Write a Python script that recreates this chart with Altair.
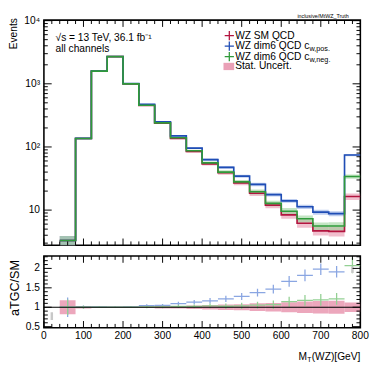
import altair as alt
import pandas as pd

# ---------------- data ----------------
bin_lo = [0, 40, 80, 120, 160, 200, 240, 280, 320, 360, 400, 440, 480, 520, 560, 600, 640, 680, 720, 760]
bin_hi = [40, 80, 120, 160, 200, 240, 280, 320, 360, 400, 440, 480, 520, 560, 600, 640, 680, 720, 760, 800]

sm_vals = [None, 3.3, 136, 1580, 2700, 1000, 455, 238, 137, 85, 54, 39, 27, 18.5, 12.0, 8.4, 6.2, 4.7, 4.6, 16.4]
pos_vals = [None, 3.3, 137, 1590, 2710, 1010, 475, 250, 150, 96, 63, 47.5, 34.5, 25.5, 17.6, 14.0, 11.3, 9.3, 8.8, 74.5]
neg_vals = [None, 3.3, 136, 1585, 2700, 1000, 458, 240, 140, 87, 56, 40, 28, 19.5, 12.8, 9.6, 7.3, 5.6, 5.6, 34.0]

sm_rel = [None, 0.18, 0.03, 0.01, 0.01, 0.015, 0.02, 0.03, 0.035, 0.045, 0.06, 0.07, 0.08, 0.10, 0.11, 0.13, 0.15, 0.16, 0.17, 0.12]
pos_rel = [None, 0.18, 0.03, 0.01, 0.01, 0.015, 0.02, 0.025, 0.03, 0.035, 0.045, 0.05, 0.055, 0.06, 0.07, 0.07, 0.08, 0.09, 0.09, 0.04]
neg_rel = [None, 0.18, 0.03, 0.01, 0.01, 0.015, 0.02, 0.03, 0.035, 0.04, 0.055, 0.065, 0.075, 0.09, 0.10, 0.12, 0.13, 0.14, 0.15, 0.08]

pos_ratio_err = [None, 0.25, 0.04, 0.015, 0.015, 0.02, 0.03, 0.035, 0.045, 0.055, 0.07, 0.08, 0.09, 0.10, 0.11, 0.14, 0.15, 0.15, 0.15, 0.30]
neg_ratio_err = [None, 0.20, 0.04, 0.015, 0.015, 0.02, 0.03, 0.035, 0.04, 0.05, 0.06, 0.07, 0.08, 0.09, 0.11, 0.13, 0.14, 0.15, 0.15, 0.20]

grey_x = [20, 780]
grey_lo = [0.67, 1.88]
grey_hi = [0.87, 2.05]

x_major = [0, 100, 200, 300, 400, 500, 600, 700, 800]
x_labels = ["0", "100", "200", "300", "400", "500", "600", "700", "800"]
x_minor = [20, 40, 60, 80, 120, 140, 160, 180, 220, 240, 260, 280, 320, 340, 360, 380,
           420, 440, 460, 480, 520, 540, 560, 580, 620, 640, 660, 680, 720, 740, 760, 780]
y1_major = [10, 100, 1000, 10000]
y1_labels = ["10", "10²", "10³", "10⁴"]
y1_minor = [3, 4, 5, 6, 7, 8, 9, 20, 30, 40, 50, 60, 70, 80, 90,
            200, 300, 400, 500, 600, 700, 800, 900, 2000, 3000, 4000, 5000, 6000, 7000, 8000, 9000]
y2_major = [0.5, 1.0, 1.5, 2.0]
y2_labels = ["0.5", "1", "1.5", "2"]
y2_minor = [0.6, 0.7, 0.8, 0.9, 1.1, 1.2, 1.3, 1.4, 1.6, 1.7, 1.8, 1.9, 2.1, 2.2, 2.3]

# ---------------- style ----------------
FONT = "Liberation Sans"
RED, BLUE, GREEN = "#b3143f", "#1f4db5", "#2f9a3a"
RED_B, BLUE_B, GREEN_B = "#e58aa5", "#8aa6e2", "#93d093"
W, H1, H2 = 326, 232, 74

XS = alt.Scale(domain=[0, 800], nice=False, zero=False)
YS1 = alt.Scale(type="log", domain=[2.77, 10200], nice=False)
YS2 = alt.Scale(domain=[0.47, 2.32], nice=False, zero=False)

one = pd.DataFrame({"k": [0]})


def txt(s, x, y, size=10, align="left", color="black", baseline="middle", angle=0):
    return alt.Chart(one).mark_text(text=s, font=FONT, fontSize=size, align=align,
                                    baseline=baseline, color=color, angle=angle).encode(
        x=alt.value(x), y=alt.value(y))


def xticks(H, major_len, minor_len):
    out = []
    for vals, ln in ((x_major, major_len), (x_minor, minor_len)):
        d = pd.DataFrame({"v": vals})
        out.append(alt.Chart(d).mark_rule(color="black", strokeWidth=1).encode(
            x=alt.X("v:Q", scale=XS, axis=None), y=alt.value(H), y2=alt.value(H - ln)))
        out.append(alt.Chart(d).mark_rule(color="black", strokeWidth=1).encode(
            x=alt.X("v:Q", scale=XS, axis=None), y=alt.value(0), y2=alt.value(ln)))
    return out


def yticks(major, minor, YS, major_len, minor_len):
    out = []
    for vals, ln in ((major, major_len), (minor, minor_len)):
        d = pd.DataFrame({"v": vals})
        out.append(alt.Chart(d).mark_rule(color="black", strokeWidth=1).encode(
            y=alt.Y("v:Q", scale=YS, axis=None), x=alt.value(0), x2=alt.value(ln)))
        out.append(alt.Chart(d).mark_rule(color="black", strokeWidth=1).encode(
            y=alt.Y("v:Q", scale=YS, axis=None), x=alt.value(W), x2=alt.value(W - ln)))
    return out


def ylabels(vals, labels, YS):
    d = pd.DataFrame({"v": vals, "t": labels})
    return alt.Chart(d).mark_text(font=FONT, fontSize=10.5, align="right", baseline="middle",
                                  color="black").encode(
        y=alt.Y("v:Q", scale=YS, axis=None), x=alt.value(-4), text="t:N")


series = [("sm", sm_vals, sm_rel, RED, RED_B),
          ("pos", pos_vals, pos_rel, BLUE, BLUE_B),
          ("neg", neg_vals, neg_rel, GREEN, GREEN_B)]

# ---------------- top panel ----------------
top_layers = []
for name, vals, rel, col, bcol in series:
    rows = [dict(lo=lo, hi=hi, ylo=v * (1 - r), yhi=v * (1 + r))
            for lo, hi, v, r in zip(bin_lo, bin_hi, vals, rel) if v is not None]
    top_layers.append(alt.Chart(pd.DataFrame(rows)).mark_rect(color=bcol, opacity=0.55, clip=True).encode(
        x=alt.X("lo:Q", scale=XS, axis=None), x2="hi:Q",
        y=alt.Y("ylo:Q", scale=YS1, axis=None), y2="yhi:Q"))
for name, vals, rel, col, bcol in series:
    xs = [lo for lo, v in zip(bin_lo, vals) if v is not None] + [800]
    ys = [v for v in vals if v is not None]
    ys = ys + [ys[-1]]
    top_layers.append(alt.Chart(pd.DataFrame({"x": xs, "y": ys})).mark_line(
        interpolate="step-after", color=col, strokeWidth=1.7, clip=True).encode(
        x=alt.X("x:Q", scale=XS, axis=None), y=alt.Y("y:Q", scale=YS1, axis=None)))

top_layers += xticks(H1, 7, 4)
top_layers += yticks(y1_major, y1_minor, YS1, 8, 4)
top_layers.append(ylabels(y1_major, y1_labels, YS1))
top_layers.append(txt("Events", -30.5, -2, size=10.5, align="right", angle=270))

# annotations
top_layers.append(txt("√s = 13 TeV, 36.1 fb⁻¹", 12, 19, size=10.5))
top_layers.append(txt("all channels", 12, 30, size=10.5))
top_layers.append(txt("inclusive/MtWZ_Truth", 314, -4, size=5.5, align="right"))

# legend
LX = 191
leg_y = [16, 26.7, 37.7]
leg_cols = [RED, BLUE, GREEN]
for yy, cc in zip(leg_y, leg_cols):
    top_layers.append(alt.Chart(one).mark_point(shape="M-1,0L1,0M0,-1L0,1", size=90, filled=False,
                                                strokeWidth=1.3, color=cc, opacity=1).encode(
        x=alt.value(LX), y=alt.value(yy)))
top_layers.append(txt("WZ SM QCD", LX + 6, leg_y[0], size=10.5))
top_layers.append(txt("WZ dim6 QCD c", LX + 6, leg_y[1], size=10.5))
top_layers.append(txt("w,pos.", LX + 82.5, leg_y[1] + 3, size=7.5))
top_layers.append(txt("WZ dim6 QCD c", LX + 6, leg_y[2], size=10.5))
top_layers.append(txt("w,neg.", LX + 82.5, leg_y[2] + 3, size=7.5))
top_layers.append(alt.Chart(one).mark_rect(color=RED_B, opacity=0.8).encode(
    x=alt.value(LX - 6), x2=alt.value(LX + 5), y=alt.value(44), y2=alt.value(51.5)))
top_layers.append(txt("Stat. Uncert.", LX + 6, 47.7, size=10.5))

top = alt.layer(*top_layers).properties(width=W, height=H1)

# ---------------- ratio panel ----------------
bot_layers = []
band_rows = [dict(lo=lo, hi=hi, ylo=1 - r, yhi=1 + r)
             for lo, hi, v, r in zip(bin_lo, bin_hi, sm_vals, sm_rel) if v is not None]
bot_layers.append(alt.Chart(pd.DataFrame(band_rows)).mark_rect(color=RED_B, opacity=0.75, clip=True).encode(
    x=alt.X("lo:Q", scale=XS, axis=None), x2="hi:Q",
    y=alt.Y("ylo:Q", scale=YS2, axis=None), y2="yhi:Q"))

for vals, errs, col in ((pos_vals, pos_ratio_err, BLUE_B), (neg_vals, neg_ratio_err, GREEN_B)):
    rows = []
    for lo, hi, v, s, e in zip(bin_lo, bin_hi, vals, sm_vals, errs):
        if v is None:
            continue
        r = v / s
        rows.append(dict(lo=lo, hi=hi, c=(lo + hi) / 2, r=r, rlo=r - e, rhi=r + e))
    d = pd.DataFrame(rows)
    bot_layers.append(alt.Chart(d).mark_rule(color=col, strokeWidth=1.3, clip=True).encode(
        x=alt.X("lo:Q", scale=XS, axis=None), x2="hi:Q", y=alt.Y("r:Q", scale=YS2, axis=None)))
    bot_layers.append(alt.Chart(d).mark_rule(color=col, strokeWidth=1.3, clip=True).encode(
        x=alt.X("c:Q", scale=XS, axis=None), y=alt.Y("rlo:Q", scale=YS2, axis=None), y2="rhi:Q"))

gd = pd.DataFrame({"x": grey_x, "lo": grey_lo, "hi": grey_hi})
bot_layers.append(alt.Chart(gd).mark_rule(color="#c8c8c8", strokeWidth=2.5, clip=True).encode(
    x=alt.X("x:Q", scale=XS, axis=None), y=alt.Y("lo:Q", scale=YS2, axis=None), y2="hi:Q"))

bot_layers.append(alt.Chart(pd.DataFrame({"y": [1.0]})).mark_rule(color="black", strokeWidth=1.2).encode(
    y=alt.Y("y:Q", scale=YS2, axis=None)))

bot_layers += xticks(H2, 7, 4)
bot_layers += yticks(y2_major, y2_minor, YS2, 8, 4)
bot_layers.append(ylabels(y2_major, y2_labels, YS2))
bot_layers.append(alt.Chart(pd.DataFrame({"v": x_major, "t": x_labels})).mark_text(
    font=FONT, fontSize=10.5, align="center", baseline="top", color="black").encode(
    x=alt.X("v:Q", scale=XS, axis=None), y=alt.value(H2 + 4), text="t:N"))
bot_layers.append(txt("aTGC/SM", -30, 33, size=13, align="center", angle=270))

bot_layers.append(txt("(WZ)[GeV]", W, 104, size=10.5, align="right"))
bot_layers.append(txt("T", W - 50.5, 107, size=7, align="right"))
bot_layers.append(txt("M", W - 55, 104, size=10.5, align="right"))

bottom = alt.layer(*bot_layers).properties(width=W, height=H2)

chart = alt.vconcat(top, bottom, spacing=7).properties(
    padding={"left": 0, "top": 0, "right": 2, "bottom": 2}
).configure_view(stroke="black", strokeWidth=1.6)

chart.save("out.html", embed_options={"renderer": "svg", "actions": False})
